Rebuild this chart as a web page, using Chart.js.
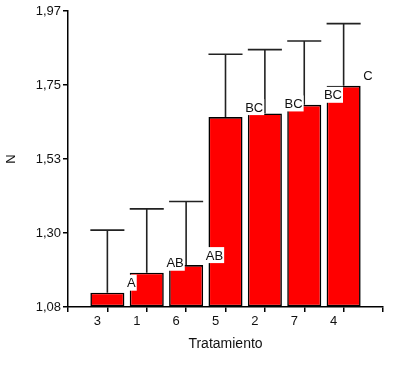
<!DOCTYPE html>
<html>
<head>
<meta charset="utf-8">
<script src="https://cdn.jsdelivr.net/npm/chart.js@4/dist/chart.umd.min.js"></script>
<style>
html,body{margin:0;padding:0;background:#fff;}
#wrap{width:400px;height:365px;position:relative;}
</style>
</head>
<body>
<div id="wrap"><canvas id="c" width="400" height="365"></canvas></div>
<script>
const categories = ['3', '1', '6', '5', '2', '7', '4'];
const means = [1.123, 1.183, 1.206, 1.651, 1.662, 1.688, 1.745];
const errTops = [1.311, 1.375, 1.397, 1.840, 1.854, 1.880, 1.932];
const letters = ['A', 'AB', 'AB', 'BC', 'BC', 'BC', 'C'];
const yTicks = [1.08, 1.3025, 1.525, 1.7475, 1.97];
const yMin = 1.08, yMax = 1.97;

const FONT = "'Liberation Sans', Arial, sans-serif";
const labels = [''].concat(categories, ['']);
const values = [null].concat(means, [null]);

const extras = {
  id: 'extras',
  afterDatasetsDraw(chart) {
    const ctx = chart.ctx;
    const meta = chart.getDatasetMeta(0);
    const y = chart.scales.y;
    const x = chart.scales.x;
    const spacing = x.getPixelForValue(2) - x.getPixelForValue(1);
    ctx.save();
    // error bars
    ctx.strokeStyle = '#222';
    ctx.lineWidth = 1.6;
    meta.data.forEach((bar, i) => {
      const k = i - 1;
      if (k < 0 || k >= categories.length) return;
      const top = y.getPixelForValue(errTops[k]);
      const half = bar.width / 2;
      ctx.beginPath();
      ctx.moveTo(bar.x, bar.y);
      ctx.lineTo(bar.x, top);
      ctx.moveTo(bar.x - half, top);
      ctx.lineTo(bar.x + half, top);
      ctx.stroke();
    });
    // letters
    ctx.font = '13px ' + FONT;
    ctx.textBaseline = 'middle';
    ctx.textAlign = 'left';
    meta.data.forEach((bar, i) => {
      const k = i - 1;
      if (k < 0 || k >= categories.length) return;
      const tx = bar.x + spacing / 2;
      const ty = bar.y - 10;
      const w = ctx.measureText(letters[k]).width;
      ctx.fillStyle = '#fff';
      ctx.fillRect(tx - 1, ty - 8, w + 2, 16);
      ctx.fillStyle = '#111';
      ctx.fillText(letters[k], tx, ty + 1);
    });
    ctx.restore();
  }
};

new Chart(document.getElementById('c'), {
  type: 'bar',
  data: {
    labels: labels,
    datasets: [{
      data: values,
      base: yMin,
      backgroundColor: '#ff0000',
      borderColor: '#000',
      borderWidth: 1.6,
      borderSkipped: false,
      categoryPercentage: 0.865,
      barPercentage: 1.0
    }]
  },
  options: {
    responsive: false,
    animation: false,
    devicePixelRatio: 1,
    layout: { padding: { left: 0, right: 17, top: 11, bottom: 0 } },
    plugins: { legend: { display: false }, tooltip: { enabled: false } },
    scales: {
      x: {
        type: 'category',
        offset: false,
        grid: { display: true, drawOnChartArea: false, drawTicks: true, tickLength: 5, color: '#000', lineWidth: 1.5, offset: false },
        border: { display: true, color: '#000', width: 1.5 },
        ticks: { color: '#111', font: { family: FONT, size: 13 }, labelOffset: -10, padding: 2, maxRotation: 0, autoSkip: false },
        title: { display: true, text: 'Tratamiento', color: '#111', font: { family: FONT, size: 14 }, padding: { top: 2, bottom: 12 } },
        afterFit: s => { s.height = 58; }
      },
      y: {
        min: yMin,
        max: yMax,
        grid: { display: true, drawOnChartArea: false, drawTicks: true, tickLength: 5, color: '#000', lineWidth: 1.5 },
        border: { display: true, color: '#000', width: 1.5 },
        afterBuildTicks: s => { s.ticks = yTicks.map(v => ({ value: v })); },
        ticks: {
          color: '#111', font: { family: FONT, size: 13 }, padding: 2,
          callback: v => (Math.round(Number(v) * 100 + 1e-6) / 100).toFixed(2).replace('.', ',')
        },
        title: { display: true, text: 'N', color: '#111', font: { family: FONT, size: 13 }, padding: { top: 4, bottom: 0 } },
        afterFit: s => { s.width = 68; }
      }
    }
  },
  plugins: [extras]
});
</script>
</body>
</html>
